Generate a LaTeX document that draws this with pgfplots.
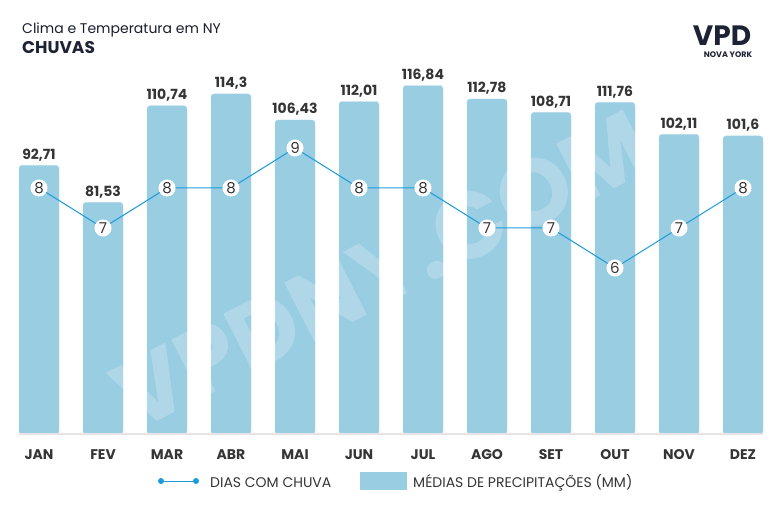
\documentclass[border=0pt]{standalone}
\usepackage{pgfplots}
\pgfplotsset{compat=1.18}
\usepackage{fontspec}
\setmainfont{Poppins}
\definecolor{barblue}{HTML}{99CDE2}
\definecolor{baredge}{HTML}{B3DAEA}
\definecolor{lineblue}{HTML}{1B9BD8}
\definecolor{txt}{HTML}{353535}
\definecolor{navy}{HTML}{1E2235}
\begin{document}
\begin{tikzpicture}
\path[use as bounding box] (0pt,0pt) rectangle (781pt,512pt);
% titles
\node[anchor=base west, inner sep=0, text=navy!85!black, font=\fontsize{14}{16}\selectfont] at (22pt,478pt) {Clima e Temperatura em NY};
\node[anchor=base west, inner sep=0, text=navy, font=\fontsize{17}{19}\selectfont\bfseries] at (22pt,458pt) {CHUVAS};
% logo
\node[anchor=base, inner sep=0, text=navy, font=\fontsize{28}{30}\selectfont\bfseries] at (722pt,466pt) {VPD};
\node[anchor=base, inner sep=0, text=navy, font=\fontsize{8}{9}\selectfont\bfseries] at (728pt,454pt) {NOVA YORK};
\begin{axis}[
  at={(7pt,78pt)}, anchor=south west,
  width=768pt, height=374pt, scale only axis,
  xmin=-0.5, xmax=11.5, ymin=11.5, ymax=124.56,
  ybar, bar width=40pt,
  axis line style={draw=none},
  ytick=\empty, ymajorticks=false,
  xtick={0,...,11}, xtick style={draw=none},
  xticklabels={JAN,FEV,MAR,ABR,MAI,JUN,JUL,AGO,SET,OUT,NOV,DEZ},
  xticklabel style={anchor=base, yshift=-21pt, text=txt, font=\fontsize{14}{16}\selectfont\bfseries},
  nodes near coords,
  every node near coord/.append style={anchor=base, yshift=6pt, text=txt, font=\fontsize{14}{16}\selectfont\bfseries},
  /pgf/number format/.cd, use comma, 1000 sep={}, assume math mode=true,
]
\addplot[fill=barblue, draw=baredge, rounded corners=3pt] coordinates {
 (0,92.71) (1,81.53) (2,110.74) (3,114.3) (4,106.43) (5,112.01)
 (6,116.84) (7,112.78) (8,108.71) (9,111.76) (10,102.11) (11,101.6)};
\end{axis}
\draw[black!10, line width=1.2pt] (19pt,78pt) -- (763pt,78pt);
% watermark
\node[rotate=27, text=white, opacity=0.22, font=\fontsize{94}{94}\selectfont\bfseries] at (382pt,242pt) {VPDNY.COM};
\begin{axis}[
  at={(7pt,78pt)}, anchor=south west,
  width=768pt, height=374pt, scale only axis,
  xmin=-0.5, xmax=11.5, ymin=1.85, ymax=11.2,
  axis lines=none,
  nodes near coords,
  every node near coord/.append style={anchor=center, yshift=0pt, text=txt, font=\fontsize{15}{16}\selectfont},
  /pgf/number format/assume math mode=true,
]
\addplot[lineblue, line width=1pt, mark=*, mark size=8pt, mark options={fill=white, draw=white}] coordinates {
 (0,8) (1,7) (2,8) (3,8) (4,9) (5,8) (6,8) (7,7) (8,7) (9,6) (10,7) (11,8)};
\end{axis}
% legend
\draw[lineblue, line width=0.8pt] (161pt,31pt) -- (196pt,31pt);
\fill[lineblue] (161pt,31pt) circle (3pt) (196pt,31pt) circle (3pt);
\node[anchor=base west, inner sep=0, text=txt, font=\fontsize{14}{16}\selectfont] at (210pt,25pt) {DIAS COM CHUVA};
\fill[barblue] (360pt,22pt) rectangle (407pt,40pt);
\node[anchor=base west, inner sep=0, text=txt, font=\fontsize{14}{16}\selectfont] at (413pt,25pt) {MÉDIAS DE PRECIPITAÇÕES (MM)};
\end{tikzpicture}
\end{document}
